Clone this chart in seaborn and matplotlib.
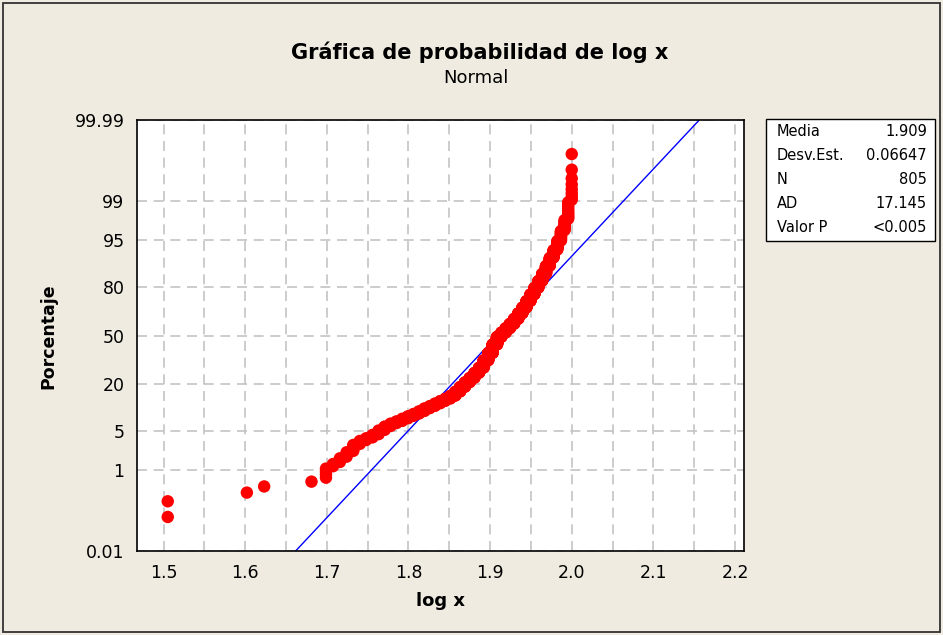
import numpy as np
import pandas as pd
import matplotlib
matplotlib.use("Agg")
import matplotlib.pyplot as plt
import seaborn as sns
from statistics import NormalDist
from matplotlib.patches import Rectangle

# ---- data (scores whose log10 is plotted, with counts) ----
score = [32, 40, 42, 48, 50, 51, 52, 53, 54, 55, 56, 57, 58, 59, 60, 61, 62, 63, 64,
         65, 66, 67, 68, 69, 70, 71, 72, 73, 74, 75, 76, 77, 78, 79, 80, 81, 82, 83,
         84, 85, 86, 87, 88, 89, 90, 91, 92, 93, 94, 95, 96, 97, 98, 99, 100]
count = [2, 1, 1, 1, 4, 2, 3, 4, 6, 4, 3, 4, 6, 6, 5, 4, 5, 5, 5,
         6, 7, 6, 7, 7, 7, 9, 14, 17, 18, 18, 22, 24, 36, 38, 46, 42, 24, 24,
         24, 27, 29, 29, 31, 30, 27, 26, 24, 23, 20, 16, 15, 13, 10, 10, 8]

# fitted normal parameters (from the statistics box)
media = 1.909
desv = 0.06647
stat_labels = ["Media", "Desv.Est.", "N", "AD", "Valor P"]
stat_values = ["1.909", "0.06647", "805", "17.145", "<0.005"]

pct_ticks = [0.01, 1, 5, 20, 50, 80, 95, 99, 99.99]
pct_labels = ["0.01", "1", "5", "20", "50", "80", "95", "99", "99.99"]
x_ticks = [1.5, 1.6, 1.7, 1.8, 1.9, 2.0, 2.1, 2.2]
x_labels = ["1.5", "1.6", "1.7", "1.8", "1.9", "2.0", "2.1", "2.2"]
x_minor = [1.55, 1.65, 1.75, 1.85, 1.95, 2.05, 2.15]

# ---- probability-plot positions (median ranks) ----
nd = NormalDist()
logx = np.sort(np.log10(np.repeat(score, count)))
n = len(logx)
ranks = np.arange(1, n + 1)
pp = (ranks - 0.3) / (n + 0.4)
zpos = np.array([nd.inv_cdf(p) for p in pp])
df = pd.DataFrame({"logx": logx, "z": zpos})

z_lo = nd.inv_cdf(0.0001)
z_hi = nd.inv_cdf(0.9999)
line_df = pd.DataFrame({"z": [z_lo, z_hi]})
line_df["logx"] = media + desv * line_df["z"]

BG = "#EFEBE0"
sns.set_style("white")
plt.rcParams["font.family"] = ["DejaVu Sans"]

fig = plt.figure(figsize=(9.43, 6.35), dpi=100, facecolor=BG)
W, H = 943.0, 635.0
ax = fig.add_axes([137 / W, 1 - 551 / H, (744 - 137) / W, (551 - 120) / H])
ax.set_facecolor("white")

sns.lineplot(data=line_df, x="logx", y="z", color="#0000FF", linewidth=1.0,
             ax=ax, zorder=2, sort=False)
sns.scatterplot(data=df, x="logx", y="z", color="#FF0000", s=80, edgecolor="none",
                linewidth=0, ax=ax, zorder=3)

ax.set_xlim(1.4675, 2.211)
ax.set_ylim(z_lo, z_hi)

ax.set_xticks(x_ticks)
ax.set_xticklabels(x_labels)
ax.set_xticks(x_minor, minor=True)
ax.set_yticks([nd.inv_cdf(p / 100) for p in pct_ticks])
ax.set_yticklabels(pct_labels)

ax.set_axisbelow(True)
grid_kw = dict(color="#C4C4C4", linewidth=1.2, linestyle=(0, (6, 4)))
ax.grid(True, which="both", axis="x", **grid_kw)
ax.grid(True, which="major", axis="y", **grid_kw)

ax.tick_params(axis="both", which="major", direction="out", length=6, width=1,
               color="black", labelsize=12.5, pad=3, labelcolor="black")
ax.tick_params(axis="x", which="minor", length=0)
for sp in ax.spines.values():
    sp.set_color("black")
    sp.set_linewidth(1.2)

ax.set_xlabel("")
ax.set_ylabel("")

# titles and labels
fig.text(480 / W, 1 - 52 / H, "Gráfica de probabilidad de log x", ha="center",
         va="center", fontsize=15, fontweight="bold", color="black")
fig.text(476 / W, 1 - 78 / H, "Normal", ha="center", va="center", fontsize=13,
         color="black")
fig.text(440 / W, 1 - 601 / H, "log x", ha="center", va="center", fontsize=13,
         fontweight="bold", color="black")
fig.text(48 / W, 1 - 336 / H, "Porcentaje", ha="center", va="center", fontsize=12.5,
         fontweight="bold", rotation=90, color="black")

# statistics box
fig.add_artist(Rectangle((766 / W, 1 - 241 / H), (935 - 766) / W, (241 - 119) / H,
                         transform=fig.transFigure, facecolor="white",
                         edgecolor="black", linewidth=1.0))
rows_y = [131, 155, 179, 203, 227]
for lab, val, yy in zip(stat_labels, stat_values, rows_y):
    fig.text(777 / W, 1 - yy / H, lab, ha="left", va="center", fontsize=10.5,
             color="black")
    fig.text(927 / W, 1 - yy / H, val, ha="right", va="center", fontsize=10.5,
             color="black")

# outer frame
fig.add_artist(Rectangle((3 / W, 3 / H), 937 / W, 629 / H, transform=fig.transFigure,
                         fill=False, edgecolor="#333333", linewidth=1.3))

fig.savefig("out.png", dpi=100, facecolor=BG)
